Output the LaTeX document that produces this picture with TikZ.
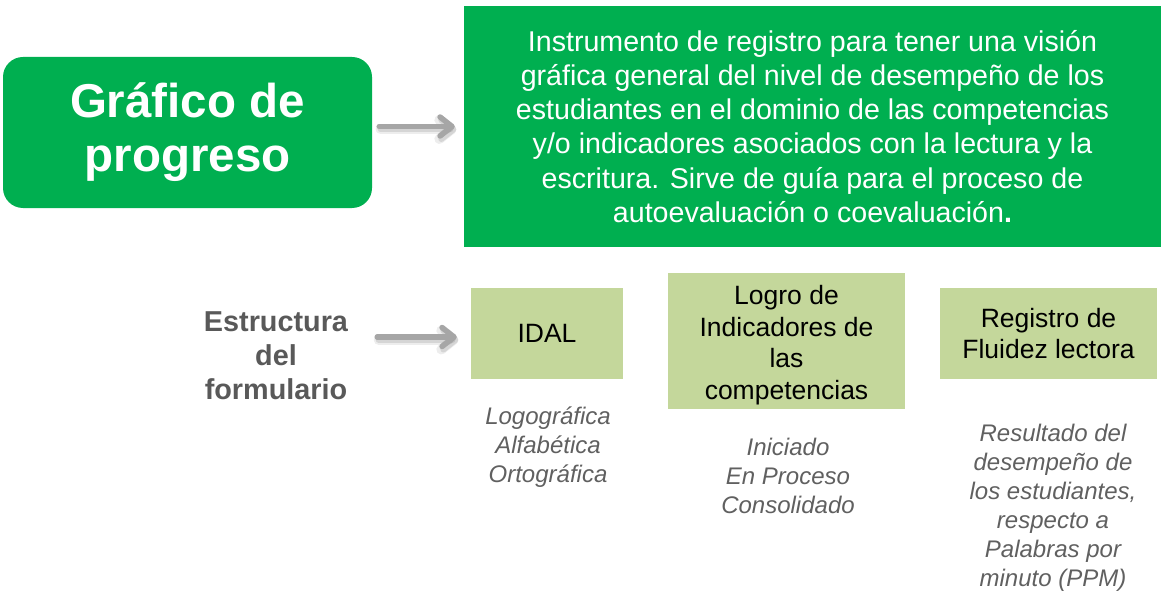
\documentclass[tikz,border=0pt]{standalone}
\usepackage{fontspec}
\setmainfont{Liberation Sans}
\usetikzlibrary{arrows.meta}
\definecolor{dgreen}{HTML}{00AF50}
\definecolor{lgreen}{HTML}{C4D79B}
\definecolor{agray}{HTML}{A6A6A6}
\definecolor{tgray}{HTML}{595959}
\definecolor{igray}{HTML}{606060}
\tikzset{
  titlebox/.style={fill=dgreen, draw=none, rounded corners=20pt, inner sep=0pt, align=center,
    text=white, font=\fontsize{47.5}{54}\selectfont\bfseries},
  descbox/.style={fill=dgreen, draw=none, inner sep=0pt, align=center,
    text=white, font=\fontsize{28.6}{34.2}\selectfont},
  lbox/.style={fill=lgreen, draw=none, inner sep=0pt, align=center,
    text=black, font=\fontsize{26.5}{31.5}\selectfont},
  structtext/.style={align=center, inner sep=0pt, text=tgray, font=\fontsize{28.8}{34}\selectfont\bfseries},
  itext/.style={align=center, inner sep=0pt, text=igray, font=\fontsize{24}{29}\selectfont\itshape},
  arr/.style={draw=agray, line width=5.5pt, line cap=round,
    -{Straight Barb[length=12pt,width=19pt,round]}},
  arrshadowa/.style={draw=black, opacity=0.07, line width=10pt, line cap=round,
    -{Straight Barb[length=12pt,width=19pt,round]}, transform canvas={xshift=1.5pt,yshift=-3pt}},
  arrshadowb/.style={draw=black, opacity=0.10, line width=6pt, line cap=round,
    -{Straight Barb[length=12pt,width=19pt,round]}, transform canvas={xshift=1.5pt,yshift=-3pt}}
}
\begin{document}
\begin{tikzpicture}[x=1pt,y=-1pt]
\useasboundingbox (0,0) rectangle (1161,596);
\node[titlebox, minimum width=369pt, minimum height=151pt] (title) at (187.5,132.5) {Gráfico de\\progreso};
\node[descbox, minimum width=697pt, minimum height=241pt] (desc) at (812.5,126.5)
  {Instrumento de registro para tener una visión\\gráfica general del nivel de desempeño de los\\estudiantes en el dominio de las competencias\\y/o indicadores asociados con la lectura y la\\escritura. Sirve de guía para el proceso de\\autoevaluación o coevaluación\textbf{.}};
\node[structtext] (struct) at (276,356) {Estructura\\del\\formulario};
\node[lbox, minimum width=152pt, minimum height=91pt] (idal) at (547,333.5) {IDAL};
\node[lbox, minimum width=237pt, minimum height=136pt] (logro) at (786.5,341) {};
\node[lbox] (logrotext) at (786.5,345) {Logro de\\Indicadores de\\las\\competencias};
\node[lbox, minimum width=217pt, minimum height=91pt] (fluidez) at (1048.5,333.5) {Registro de\\Fluidez lectora};
\node[itext] (idalsub) at (548,447) {Logográfica\\Alfabética\\Ortográfica};
\node[itext] (logrosub) at (788,476) {Iniciado\\En Proceso\\Consolidado};
\node[itext] (fluidezsub) at (1053,507.5) {Resultado del\\desempeño de\\los estudiantes,\\respecto a\\Palabras por\\minuto (PPM)};
\foreach \s in {arrshadowa,arrshadowb,arr}{
  \draw[\s, shorten <=7pt, shorten >=9pt] (title.east |- desc.west) -- (desc.west);
  \draw[\s, shorten <=29pt, shorten >=14pt] ([yshift=-3.5pt]struct.east |- idal.west) -- ([yshift=-3.5pt]idal.west);
}
\end{tikzpicture}
\end{document}
